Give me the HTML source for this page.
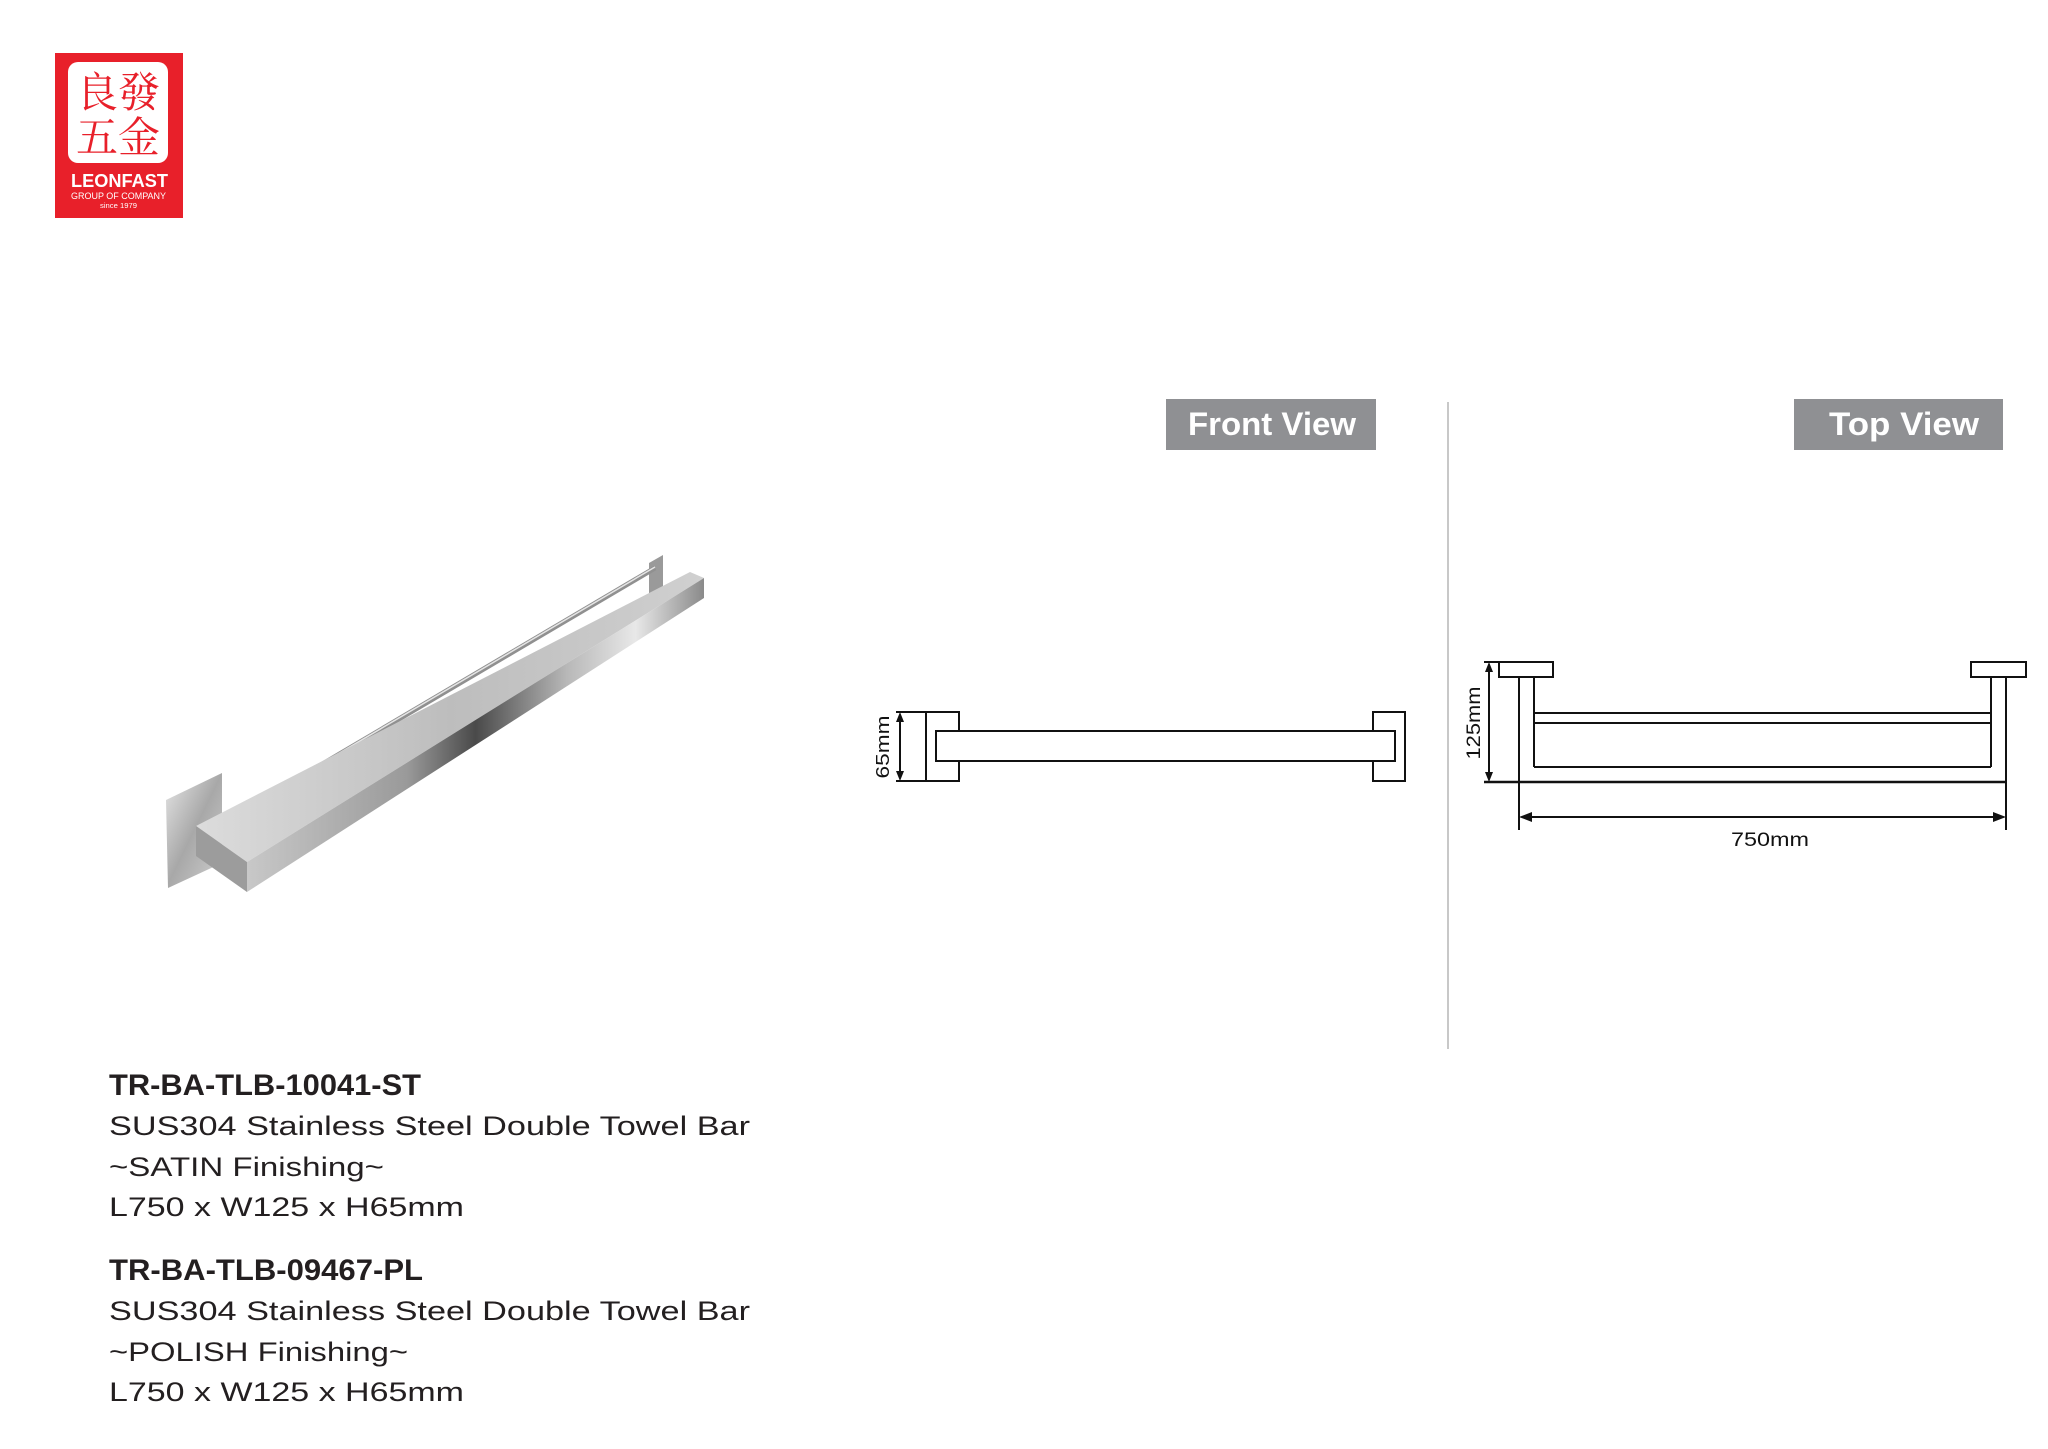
<!DOCTYPE html>
<html><head><meta charset="utf-8"><style>html,body{margin:0;padding:0;background:#fff}svg{display:block}</style></head>
<body>
<svg width="2048" height="1449" viewBox="0 0 2048 1449" xmlns="http://www.w3.org/2000/svg">
<defs>
<linearGradient id="bar" x1="0" y1="0" x2="1" y2="0">
<stop offset="0" stop-color="#c8c8c8"/><stop offset="0.35" stop-color="#9a9a9a"/><stop offset="0.5" stop-color="#4a4a4a"/><stop offset="0.7" stop-color="#b8b8b8"/><stop offset="0.85" stop-color="#e8e8e8"/><stop offset="1" stop-color="#8a8a8a"/>
</linearGradient>
<linearGradient id="top" x1="0" y1="0" x2="1" y2="0">
<stop offset="0" stop-color="#dcdcdc"/><stop offset="0.5" stop-color="#bdbdbd"/><stop offset="1" stop-color="#d0d0d0"/>
</linearGradient>
<linearGradient id="plate" x1="0" y1="0" x2="1" y2="1">
<stop offset="0" stop-color="#e6e6e6"/><stop offset="0.5" stop-color="#a8a8a8"/><stop offset="1" stop-color="#cfcfcf"/>
</linearGradient>
</defs>
<rect x="55" y="53" width="128" height="165" fill="#e8202a"/>
<rect x="68" y="62" width="100" height="101" rx="10" fill="#fff"/>
<g font-family="'Noto Serif CJK SC','Noto Sans CJK SC',serif" font-size="42" fill="#e8202a">
<text x="76" y="107">良</text><text x="118" y="107">發</text>
<text x="76" y="152">五</text><text x="118" y="152">金</text>
</g>
<text x="71" y="187" font-family="'Liberation Sans',sans-serif" font-weight="bold" font-size="18" fill="#fff" textLength="97" lengthAdjust="spacingAndGlyphs">LEONFAST</text>
<text x="71" y="199" font-family="'Liberation Sans',sans-serif" font-size="9" fill="#fff" textLength="95" lengthAdjust="spacingAndGlyphs">GROUP OF COMPANY</text>
<text x="100" y="208" font-family="'Liberation Sans',sans-serif" font-size="7" fill="#fff" textLength="37" lengthAdjust="spacingAndGlyphs">since 1979</text>

<g>
<polygon points="649,563 663,555 663,600 649,606" fill="#9a9a9a"/>
<line x1="231" y1="818" x2="655" y2="568" stroke="#909090" stroke-width="5"/>
<line x1="231" y1="817" x2="655" y2="567" stroke="#e4e4e4" stroke-width="1.5"/>
<polygon points="166,800 222,773 222,863 168,888" fill="url(#plate)"/>
<polygon points="196,826 690,572 704,578 247,862" fill="url(#top)"/>
<polygon points="247,862 704,578 704,598 247,892" fill="url(#bar)"/>
<polygon points="196,826 247,862 247,892 196,856" fill="#9c9c9c"/>
</g>

<rect x="1166" y="399" width="210" height="51" fill="#8f9093"/>
<text x="1188" y="435" font-family="'Liberation Sans',sans-serif" font-weight="bold" font-size="32" fill="#fff" textLength="168" lengthAdjust="spacingAndGlyphs">Front View</text>
<rect x="1794" y="399" width="209" height="51" fill="#8f9093"/>
<text x="1829" y="435" font-family="'Liberation Sans',sans-serif" font-weight="bold" font-size="32" fill="#fff" textLength="150" lengthAdjust="spacingAndGlyphs">Top View</text>
<line x1="1448" y1="402" x2="1448" y2="1049" stroke="#c8c8c8" stroke-width="2"/>

<g fill="none" stroke="#111" stroke-width="2">
<rect x="926" y="712" width="33" height="69"/>
<rect x="1373" y="712" width="32" height="69"/>
<rect x="936" y="731" width="459" height="30" fill="#fff"/>
<line x1="896" y1="712" x2="926" y2="712"/><line x1="896" y1="781" x2="926" y2="781"/>
<line x1="900" y1="718" x2="900" y2="775"/>
</g>
<polygon points="900,712 896,722 904,722" fill="#111"/>
<polygon points="900,781 896,771 904,771" fill="#111"/>
<text transform="translate(889,747) rotate(-90)" text-anchor="middle" font-family="'Liberation Sans',sans-serif" font-size="18" fill="#111" textLength="63" lengthAdjust="spacingAndGlyphs">65mm</text>

<g fill="none" stroke="#111" stroke-width="2">
<rect x="1499" y="662" width="54" height="15"/>
<rect x="1971" y="662" width="55" height="15"/>
<line x1="1519" y1="677" x2="1519" y2="782"/><line x1="1534" y1="677" x2="1534" y2="767"/>
<line x1="1991" y1="677" x2="1991" y2="767"/><line x1="2006" y1="677" x2="2006" y2="782"/>
<line x1="1534" y1="767" x2="1991" y2="767"/>
<line x1="1484" y1="782" x2="2006" y2="782" stroke-width="2.5"/>
<rect x="1534" y="713" width="457" height="10"/>
<line x1="1484" y1="662" x2="1499" y2="662"/>
<line x1="1489" y1="670" x2="1489" y2="774"/>
<line x1="1519" y1="782" x2="1519" y2="830"/><line x1="2006" y1="782" x2="2006" y2="830"/>
<line x1="1527" y1="817" x2="1998" y2="817"/>
</g>
<polygon points="1489,662 1485,672 1493,672" fill="#111"/>
<polygon points="1489,782 1485,772 1493,772" fill="#111"/>
<polygon points="1519,817 1532,812 1532,822" fill="#111"/>
<polygon points="2006,817 1993,812 1993,822" fill="#111"/>
<text transform="translate(1480,723) rotate(-90)" text-anchor="middle" font-family="'Liberation Sans',sans-serif" font-size="19" fill="#111" textLength="73" lengthAdjust="spacingAndGlyphs">125mm</text>
<text x="1770" y="846" text-anchor="middle" font-family="'Liberation Sans',sans-serif" font-size="19" fill="#111" textLength="78" lengthAdjust="spacingAndGlyphs">750mm</text>

<g font-family="'Liberation Sans',sans-serif" fill="#231f20">
<text x="109" y="1095" font-weight="bold" font-size="30" textLength="312" lengthAdjust="spacingAndGlyphs">TR-BA-TLB-10041-ST</text>
<text x="109" y="1135" font-size="27" textLength="641" lengthAdjust="spacingAndGlyphs">SUS304 Stainless Steel Double Towel Bar</text>
<text x="109" y="1176" font-size="27" textLength="275" lengthAdjust="spacingAndGlyphs">~SATIN Finishing~</text>
<text x="109" y="1216" font-size="27" textLength="355" lengthAdjust="spacingAndGlyphs">L750 x W125 x H65mm</text>
<text x="109" y="1280" font-weight="bold" font-size="30" textLength="314" lengthAdjust="spacingAndGlyphs">TR-BA-TLB-09467-PL</text>
<text x="109" y="1320" font-size="27" textLength="641" lengthAdjust="spacingAndGlyphs">SUS304 Stainless Steel Double Towel Bar</text>
<text x="109" y="1361" font-size="27" textLength="299" lengthAdjust="spacingAndGlyphs">~POLISH Finishing~</text>
<text x="109" y="1401" font-size="27" textLength="355" lengthAdjust="spacingAndGlyphs">L750 x W125 x H65mm</text>
</g>
</svg>
</body></html>
